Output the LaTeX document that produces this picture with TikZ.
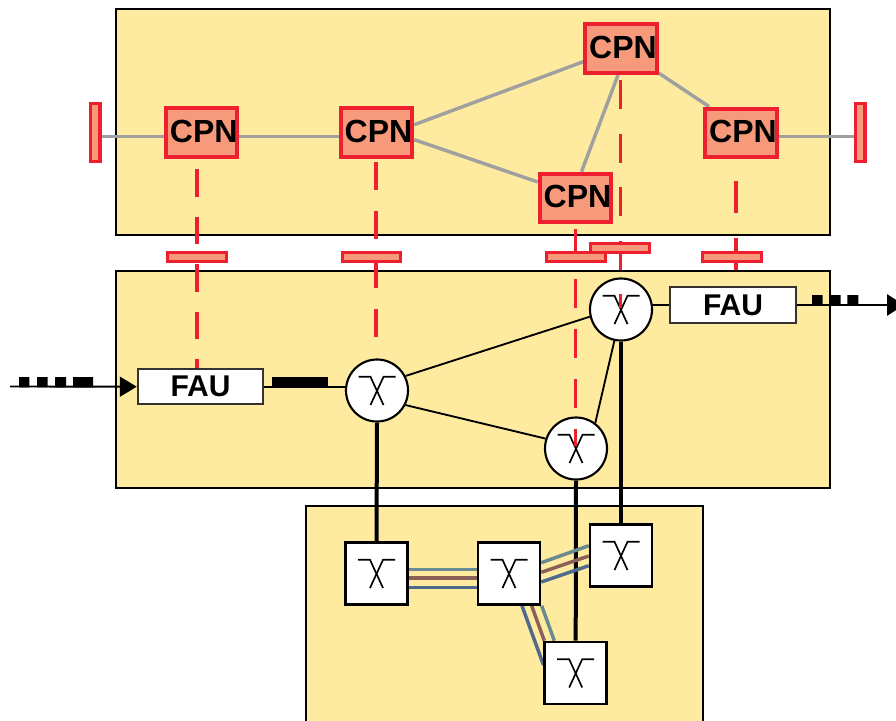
\documentclass[tikz,border=0pt]{standalone}
\usepackage{fontspec}
\setmainfont{Liberation Sans}
\usetikzlibrary{arrows.meta}
\pgfdeclarelayer{panels}
\pgfdeclarelayer{links}
\pgfsetlayers{panels,links,main}
\definecolor{panelfill}{HTML}{FEEB9F}
\definecolor{cpnfill}{HTML}{F79A7C}
\definecolor{cpnred}{HTML}{EE1F2F}
\definecolor{linkgray}{HTML}{A0A0A0}
\definecolor{fibteal}{HTML}{6A8A92}
\definecolor{fibbrown}{HTML}{8B6058}
\definecolor{fibblue}{HTML}{4F6A8C}
\tikzset{
  panel/.style={draw=black,fill=panelfill,line width=1.1pt},
  cpn/.style={draw=cpnred,fill=cpnfill,line width=3pt,minimum width=53pt,minimum height=36.5pt,inner sep=0pt,font=\fontsize{24}{24}\selectfont\bfseries},
  hbar/.style={draw=cpnred,fill=cpnfill,line width=2.4pt,minimum width=44pt,minimum height=7pt,inner sep=0pt},
  vbar/.style={draw=cpnred,fill=cpnfill,line width=2.4pt,minimum width=7pt,minimum height=44pt,inner sep=0pt},
  fau/.style={draw=black!80,fill=white,line width=1.6pt,minimum width=94pt,minimum height=26.5pt,inner sep=0pt,font=\fontsize{22.5}{22.5}\selectfont\bfseries},
  swc/.style={circle,draw=black,fill=white,line width=1.6pt,minimum size=46.5pt,inner sep=0pt},
  swb/.style={rectangle,draw=black,fill=white,line width=1.9pt,minimum size=46.5pt,inner sep=0pt},
  glyphline/.style={draw=black,line width=1.25pt},
  graylink/.style={draw=linkgray,line width=2.6pt},
  reddash/.style={draw=cpnred,line width=2.4pt},
  thinlink/.style={draw=black,line width=1.4pt},
  thicklink/.style={draw=black,line width=3pt},
  fiber/.style={line width=2.6pt}
}
\newcommand{\swglyph}[1]{%
  \draw[glyphline] ([shift={(-18.5,-13.7)}]#1.center) -- ([shift={(-6.5,-13.7)}]#1.center) -- ([shift={(6.5,14.5)}]#1.center);
  \draw[glyphline] ([shift={(18.5,-13.7)}]#1.center) -- ([shift={(6.5,-13.7)}]#1.center) -- ([shift={(-6.5,14.5)}]#1.center);
}
\newcommand{\cpnlabel}{\raisebox{1.8pt}{\hspace*{3pt}CPN}}
\begin{document}
\begin{tikzpicture}[x=0.75pt,y=-0.75pt]
\useasboundingbox (0,0) rectangle (896,721);
\clip (0,0) rectangle (896,721);
\begin{pgfonlayer}{panels}
\fill[white] (0,0) rectangle (896,721);
\draw[panel] (116,9) rectangle (830,235);
\draw[panel] (116,271) rectangle (830,488);
\fill[panelfill] (306,506) rectangle (703,721);
\draw[panel,fill=none] (306,721) -- (306,506) -- (703,506) -- (703,721);
\end{pgfonlayer}
% CPN nodes
\node[vbar] (barL) at (95.3,132.5) {};
\node[vbar] (barR) at (860.3,132.5) {};
\node[cpn] (cpn1) at (201.7,132.7) {\cpnlabel};
\node[cpn] (cpn2) at (376.5,132.7) {\cpnlabel};
\node[cpn] (cpn3) at (621,48.7) {\cpnlabel};
\node[cpn] (cpn4) at (741,133) {\cpnlabel};
\node[cpn] (cpn5) at (575.5,198) {\cpnlabel};
% switches
\node[swc] (sw1) at (377,390.5) {};
\node[swc] (sw2) at (576,448.5) {};
\node[swc] (sw3) at (621,309.5) {};
\node[swb] (box1) at (376.5,573.5) {};
\node[swb] (box2) at (509,573.5) {};
\node[swb] (box3) at (621,555.5) {};
\node[swb] (box4) at (575.7,673) {};
% FAU
\node[fau] (fau1) at (200.5,386.7) {FAU};
\node[fau] (fau2) at (733,305) {FAU};
% connectors, behind the nodes
\begin{pgfonlayer}{links}
\draw[graylink] ([shift={(0,4.2)}]barL.east) -- ([shift={(0,4)}]cpn1.west);
\draw[graylink] ([shift={(0,4)}]cpn1.east) -- ([shift={(0,4)}]cpn2.west);
\draw[graylink] ([shift={(0,-8)}]cpn2.east) -- ([shift={(0,13)}]cpn3.west);
\draw[graylink] ([shift={(0,7)}]cpn2.east) -- ([shift={(0,-16)}]cpn5.west);
\draw[graylink] ([shift={(-3,0)}]cpn3.south) -- ([shift={(6,0)}]cpn5.north);
\draw[graylink] ([shift={(0,-2)}]cpn3.south east) -- ([shift={(6,0)}]cpn4.north west);
\draw[graylink] ([shift={(0,3.7)}]cpn4.east) -- ([shift={(0,4.2)}]barR.west);
\draw[thinlink] (sw1.27) -- (sw3.193);
\draw[thinlink] (sw1.-27) -- (sw2.162);
\draw[thinlink] (sw2.53) -- (sw3.-102);
\draw[thinlink] (fau1.east) -- (fau1.east -| sw1.center);
\draw[thinlink] (fau2.west) -- (fau2.west -| sw3.center);
\draw[thicklink] (sw1.south) -- (box1.north);
\draw[thicklink] (sw2.south) -- (box4.north);
\draw[thicklink] (sw3.south) -- (box3.north);
\draw[fiber,fibteal] ([shift={(0,-4.2)}]box1.east) -- ([shift={(0,-4.2)}]box2.west);
\draw[fiber,fibbrown] ([shift={(0,4.5)}]box1.east) -- ([shift={(0,4.5)}]box2.west);
\draw[fiber,fibblue] ([shift={(0,13.8)}]box1.east) -- ([shift={(0,13.8)}]box2.west);
\draw[fiber,fibteal] ([shift={(0,-10.8)}]box2.east) -- ([shift={(0,-9.8)}]box3.west);
\draw[fiber,fibbrown] ([shift={(0,-1.2)}]box2.east) -- ([shift={(0,0.5)}]box3.west);
\draw[fiber,fibblue] ([shift={(0,8.5)}]box2.east) -- ([shift={(0,10.2)}]box3.west);
\draw[fiber,fibteal] ([shift={(32.7,0)}]box2.south) -- ([shift={(-21.4,0)}]box4.north);
\draw[fiber,fibbrown] ([shift={(22.7,0)}]box2.south) -- ([shift={(-31.4,0)}]box4.north);
\draw[fiber,fibblue] ([shift={(13,0)}]box2.south) -- ([shift={(0,-8)}]box4.west);
\end{pgfonlayer}
% glyphs
\swglyph{sw1}\swglyph{sw2}\swglyph{sw3}
\swglyph{box1}\swglyph{box2}\swglyph{box3}\swglyph{box4}
% red dashed control lines
\coordinate (d1a) at (197,169.3); \coordinate (d1b) at (197,368);
\coordinate (d2a) at (376,161.7); \coordinate (d2b) at (376,338);
\coordinate (d3a) at (620.5,80);  \coordinate (d3b) at (620.5,308);
\coordinate (d5a) at (575.7,229); \coordinate (d5b) at (575.7,446);
\coordinate (d4a) at (736,181);   \coordinate (d4b) at (736,270);
\draw[reddash,dash pattern=on 20.6pt off 15pt] (d1a) -- (d1b);
\draw[reddash,dash pattern=on 21pt off 15.75pt] (d2a) -- (d2b);
\draw[reddash,dash pattern=on 21.75pt off 18.4pt] (d3a) -- (d3b);
\draw[reddash,dash pattern=on 21.75pt off 15.75pt] (d5a) -- (d5b);
\draw[reddash,dash pattern=on 23.8pt off 18.9pt] (d4a) -- (d4b);
% red bars
\node[hbar] (bar4) at (620,248) {};
\node[hbar] (bar1) at (197,257) {};
\node[hbar] (bar2) at (371.5,257) {};
\node[hbar] (bar3) at (576,257) {};
\node[hbar] (bar5) at (732,257) {};
% data flow: left
\coordinate (inL) at (10,386.5);
\draw[thinlink,-{Triangle[length=12.75pt,width=15pt]}] (inL) -- (fau1.west);
\fill[black] (19,377) rectangle (29.3,387.3) (37,377) rectangle (47.7,387.3) (55,377) rectangle (66,387.3) (73,377) rectangle (93,387.3);
\fill[black] (272,376.7) rectangle (328,387.3);
% data flow: right
\coordinate (outR) at (904,305);
\draw[thinlink,-{Triangle[length=12.75pt,width=16pt]}] (fau2.east) -- (outR);
\fill[black] (812,295) rectangle (822.7,305.7) (829.7,295) rectangle (840.7,305.7) (847.3,295) rectangle (858.3,305.7);
\end{tikzpicture}
\end{document}
